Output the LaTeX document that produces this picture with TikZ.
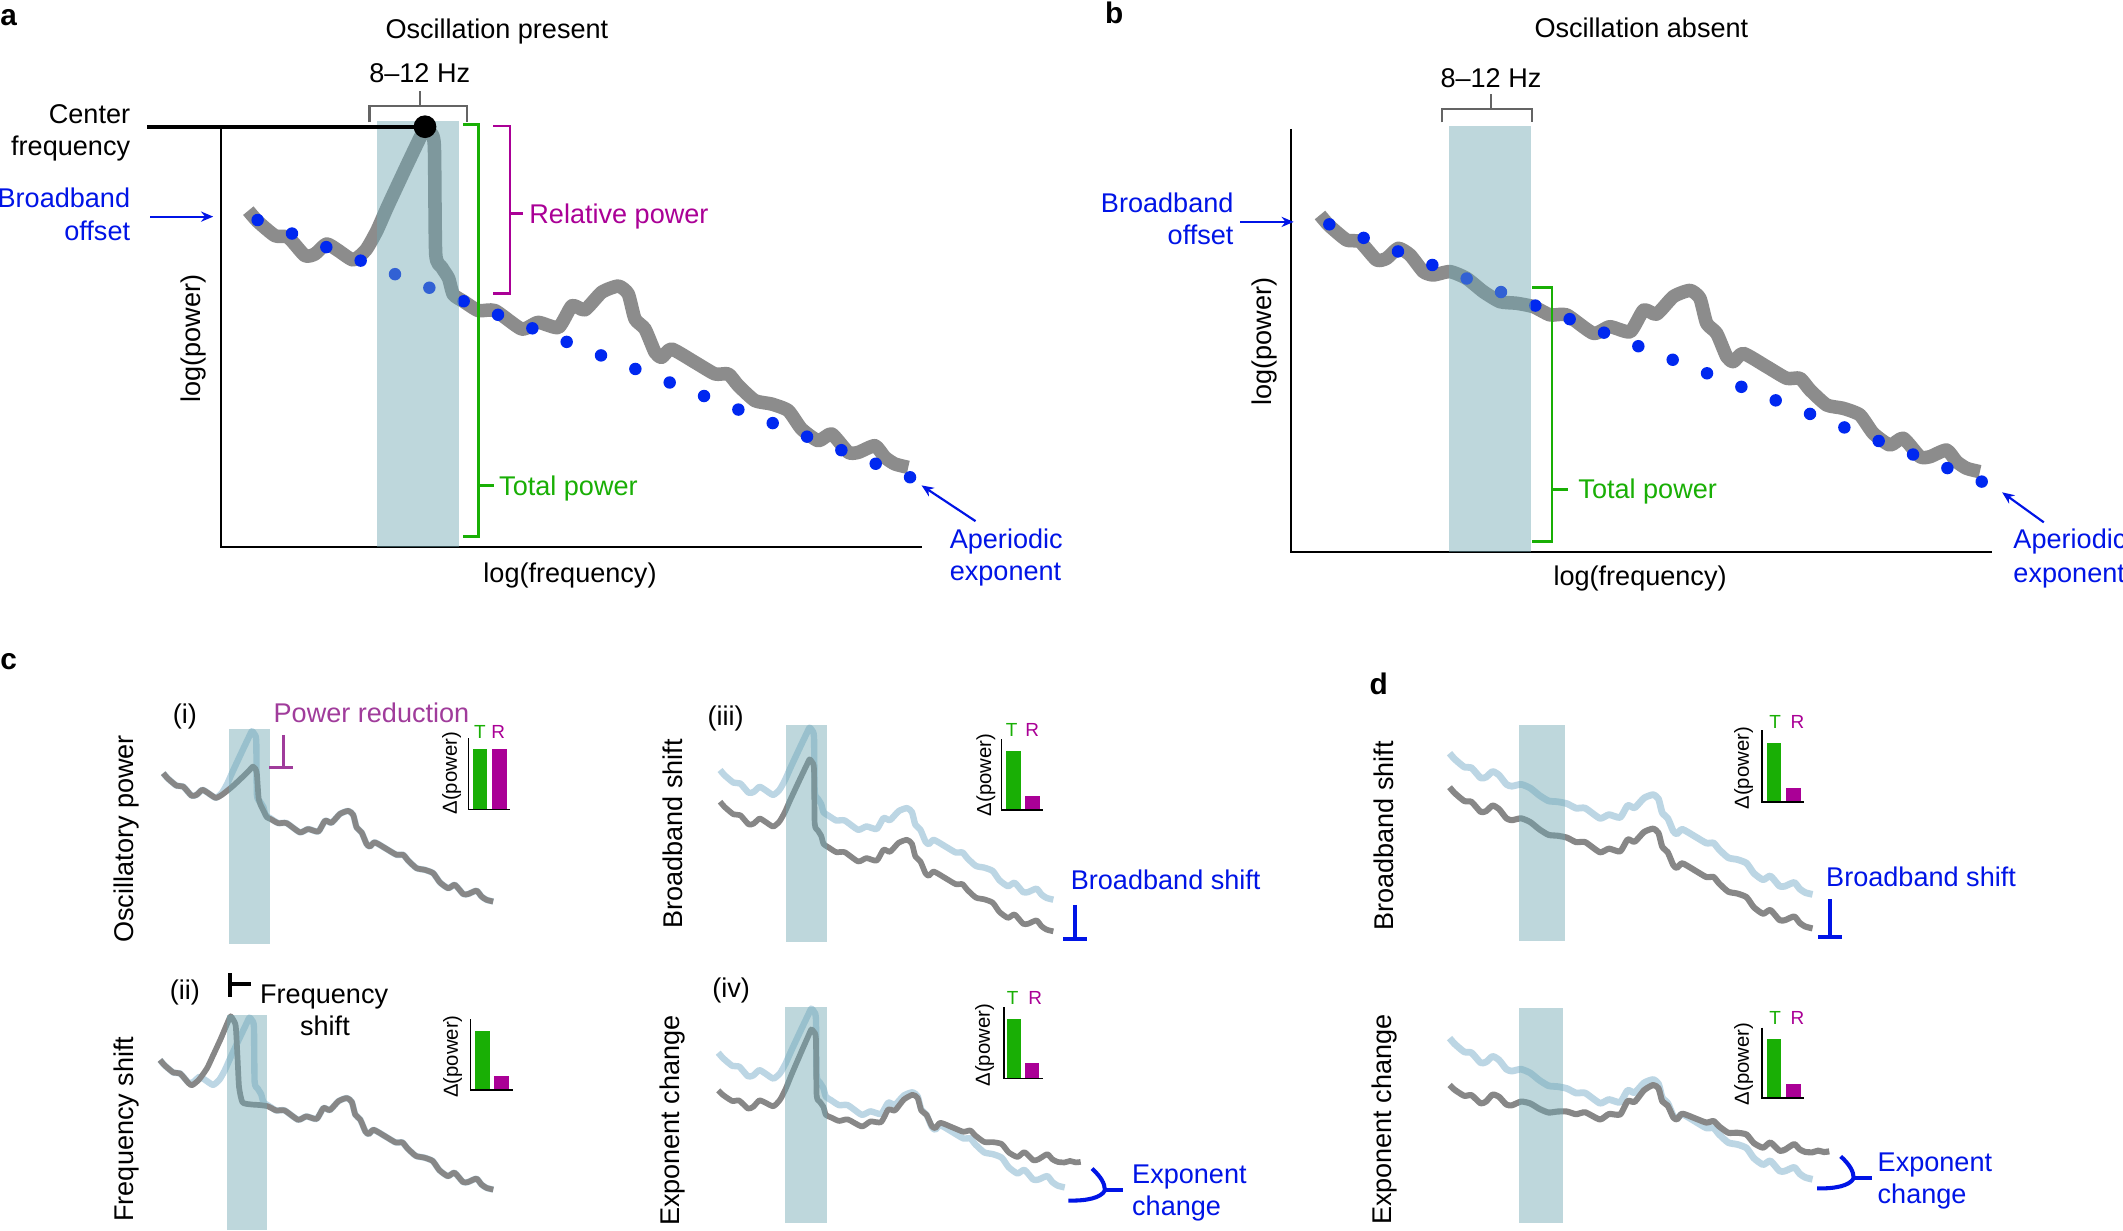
\documentclass[tikz,border=0pt]{standalone}
\usepackage{fontspec}
\setmainfont{Liberation Sans}
\usetikzlibrary{arrows.meta}
\definecolor{cgray}{RGB}{140,140,140}
\definecolor{cdark}{RGB}{135,135,135}
\definecolor{clight}{RGB}{188,214,228}
\definecolor{cband}{RGB}{111,167,178}
\definecolor{dotblue}{RGB}{0,40,240}
\definecolor{myblue}{RGB}{0,20,230}
\definecolor{mygreen}{RGB}{25,175,5}
\definecolor{mymag}{RGB}{170,0,150}
\definecolor{powred}{RGB}{160,60,155}
\definecolor{brgray}{RGB}{100,100,100}
\newcommand\myfs[1]{\fontsize{#1}{#1}\selectfont}
% curve data (relative to first aperiodic dot, big-panel units)
\def\cvL{-6.9/-6.9,0/1,12.8/11.6,22.6/12.8,34.9/26.3,42.3/25.1,50.9/17.7,59.6/22.6}
\def\cvM{69.4/34.9,76.8/37.4,89.1/34.9,101.4/39.9,113.7/49.7,126/57.1,138.4/58.3,150.7/60.8}
\def\cvR{163/66.9,175.3/66.9,195/80.5,207.2/75.6,222.2/79.3,232.2/63.3,241.7/66.3,254.2/53.3,266.4/48.8,273.7/54.6,278.7/73.1,286.1/80.5,293.5/97.7,298.4/101.4,305.7/95.3,323/105.1,337.8/113.7,347.6/113.7,355/122.3,367.3/133.4,379.6/135.9,391.9/140.8,401.7/154.3,414.1/163,423.9/158,436.2/171.6,443.6/171.6,455.9/166.7,463.3/175.3,470.7/180.2,480.5/182.7}
\def\cvExt{488/182,496/185.5,503/186}
\def\pkF{70.7/29.5,80/22,88/8,96/-10,110/-40,120.5/-62,124/-68.9,127.5/-65,130.5/-55,131.5/25,136/35,141/43,144.5/55,151.9/60}
\def\pkR{70.7/29.5,80/25,95/13,110/-1,121/-12,125.5/-16.6,129.5/-13,131.5/-5,134/30,137/40,142/50,146/58,151.9/61}
\def\cvS{-6.9/-6.9,0/1,12.8/11.6,22.6/12.8,34.9/27,40/30,50/22,62/5,70/-12,82/-38,93/-64,96.5/-70.9,100/-66,103.9/-56.3,106.5/-10,108.7/32.5,113.7/55,125.9/58.1,138.4/59,150.7/60.8}
\edef\curveB{\cvL,\cvM,\cvR}
\edef\curveF{\cvL,\pkF,\cvR}
\edef\curveRd{\cvL,\pkR,\cvR}
\edef\curveSh{\cvS,\cvR}
\edef\curveFx{\cvL,\pkF,\cvR,\cvExt}
\edef\curveBx{\cvL,\cvM,\cvR,\cvExt}
% #1 list, #2 ox, #3 oy, #4 scale, #5 k (slope change), #6 pivot x, #7 dy
\newcommand\mkcurve[7]{%
  \gdef\cvpts{}%
  \foreach \cx/\cy in #1 {%
    \pgfmathsetmacro\cvX{#2+#4*\cx}%
    \pgfmathsetmacro\cvY{#3+#4*(\cy+#7-#5*(\cx-#6))}%
    \xdef\cvpts{\cvpts (\cvX,\cvY)}%
  }%
}
\newcommand\drawcv[1]{\expandafter\drawcvi\expandafter{\cvpts}{#1}}
\newcommand\drawcvi[2]{\draw[#2] plot[smooth,tension=0.35] coordinates {#1};}
\begin{document}
\begin{tikzpicture}[x=1pt,y=-1pt,
  lbl/.style={font=\myfs{20}, inner sep=0pt},
  panlbl/.style={font=\myfs{22}\bfseries, inner sep=0pt},
  small/.style={font=\myfs{15}, inner sep=0pt},
  tr/.style={font=\myfs{14}, inner sep=0pt},
  bigcurve/.style={line width=10pt, draw=cgray, line join=round, line cap=butt},
  darkcv/.style={line width=4.2pt, draw=cdark, line join=round},
  ghostcv/.style={line width=4.7pt, draw=clight, line join=round},
  dcv/.style={line width=4.5pt, draw=cdark, line join=round},
  dghost/.style={line width=5pt, draw=clight, line join=round},
  bandbox/.style={fill=cband, fill opacity=0.45},
  axisline/.style={line width=1.3pt, draw=black},
  baraxis/.style={line width=1.1pt, draw=black},
  gbr/.style={line width=2pt, draw=mygreen},
  mbr/.style={line width=2pt, draw=mymag},
  hzbr/.style={line width=1.8pt, draw=brgray},
  barrow/.style={line width=1.6pt, draw=myblue, -{Stealth[length=9pt,width=7.5pt]}},
  bsym/.style={line width=3pt, draw=myblue},
]
\useasboundingbox (0,0) rectangle (1568,909);
\fill[white] (0,0) rectangle (1568,909);

%================ panel a =================
\node[panlbl, anchor=base west] (la) at (0,18.5) {a};
\node[lbl, anchor=base] (ta) at (367,28.4) {Oscillation present};
\draw[axisline] (163,95.5) -- (163,404) -- (681,404);
\mkcurve{\curveF}{190.3}{162.5}{1}{0}{0}{0}
\drawcv{bigcurve}
\foreach \i in {0,...,19} \fill[dotblue] ({190.3+25.36*\i},{162.5+10.0*\i}) circle[radius=4.6pt];
\fill[bandbox] (278.7,89.1) rectangle (339,404);
\coordinate (cfL) at (108.7,93.6);
\coordinate (cfD) at (313.9,93.6);
\draw[line width=3.2pt] (cfL) -- (cfD);
\fill (cfD) circle[radius=8.4pt];
\draw[hzbr] (272.8,90.3) -- (272.8,78.3) -- (345.1,78.3) -- (345.1,90.3);
\draw[hzbr] (310.2,78.3) -- (310.2,67.3);
\node[lbl, anchor=base] (hza) at (310,61) {8--12 Hz};
\node[lbl, anchor=base east] (cf1) at (96.3,90.9) {Center};
\node[lbl, anchor=base east] (cf2) at (96.3,115) {frequency};
\node[lbl, anchor=base east, text=myblue] (bo1) at (96.3,153.4) {Broadband};
\node[lbl, anchor=base east, text=myblue] (bo2) at (96.3,177.5) {offset};
\coordinate (boA) at (110.8,160);
\coordinate (boB) at (157.5,160);
\draw[barrow] (boA) -- (boB);
\draw[mbr] (364.3,93.1) -- (376.7,93.1) -- (376.7,216.6) -- (364.3,216.6);
\draw[mbr] (376.7,157.6) -- (386.5,157.6);
\node[lbl, anchor=base west, text=mymag] (rp) at (390.8,164.8) {Relative power};
\draw[gbr] (342.2,91.8) -- (353.3,91.8) -- (353.3,396.3) -- (341.6,396.3);
\draw[gbr] (353.3,358.5) -- (364.9,358.5);
\node[lbl, anchor=base west, text=mygreen] (tpa) at (368.5,365.7) {Total power};
\node[lbl, rotate=90] (lpa) at (143.1,250) {log(power)};
\node[lbl, anchor=base] (lfa) at (421,430.4) {log(frequency)};
\node[lbl, anchor=base west, text=myblue] (ae1) at (701.3,404.8) {Aperiodic};
\node[lbl, anchor=base west, text=myblue] (ae2) at (701.3,429) {exponent};
\coordinate (aeA) at (720.5,384.9);
\coordinate (aeB) at (680.6,358.5);
\draw[barrow] (aeA) -- (aeB);

%================ panel b =================
\node[panlbl, anchor=base west] (lb) at (816,17) {b};
\node[lbl, anchor=base] (tb) at (1212.3,27.8) {Oscillation absent};
\draw[axisline] (953.6,95.1) -- (953.6,407.5) -- (1471.5,407.5);
\mkcurve{\curveB}{981.8}{165.7}{1}{0}{0}{0}
\drawcv{bigcurve}
\foreach \i in {0,...,19} \fill[dotblue] ({981.8+25.36*\i},{165.7+10.0*\i}) circle[radius=4.6pt];
\fill[bandbox] (1070.2,92.9) rectangle (1130.4,407.5);
\draw[hzbr] (1064.9,90.3) -- (1064.9,80.4) -- (1131.3,80.4) -- (1131.3,90.3);
\draw[hzbr] (1101.2,80.4) -- (1101.2,69.6);
\node[lbl, anchor=base] (hzb) at (1101.2,64.8) {8--12 Hz};
\node[lbl, anchor=base east, text=myblue] (bob1) at (911.2,156.8) {Broadband};
\node[lbl, anchor=base east, text=myblue] (bob2) at (911.2,180.4) {offset};
\coordinate (bobA) at (916,163.9);
\coordinate (bobB) at (955.5,163.9);
\draw[barrow] (bobA) -- (bobB);
\draw[gbr] (1131.8,212.5) -- (1146.3,212.5) -- (1146.3,399.7) -- (1131.8,399.7);
\draw[gbr] (1146.3,361.3) -- (1158.4,361.3);
\node[lbl, anchor=base west, text=mygreen] (tpb) at (1165.6,368.5) {Total power};
\node[lbl, rotate=90] (lpb) at (934,252.1) {log(power)};
\node[lbl, anchor=base] (lfb) at (1211.3,432.5) {log(frequency)};
\node[lbl, anchor=base west, text=myblue] (aeb1) at (1486.9,404.8) {Aperiodic};
\node[lbl, anchor=base west, text=myblue] (aeb2) at (1486.9,430.4) {exponent};
\coordinate (aebA) at (1509.5,385.8);
\coordinate (aebB) at (1478.7,363.6);
\draw[barrow] (aebA) -- (aebB);

%================ panel c =================
\node[panlbl, anchor=base west] (lc) at (0,494.4) {c};
% (i)
\mkcurve{\curveF}{124}{574.5}{0.5}{0}{0}{0}
\drawcv{ghostcv}
\mkcurve{\curveRd}{124}{574.5}{0.5}{0}{0}{0}
\drawcv{darkcv}
\fill[bandbox] (169.4,538.6) rectangle (199.4,697.2);
\node[lbl, anchor=base] (ci) at (136.6,534) {(i)};
\node[lbl, anchor=base west, text=powred] (prd) at (201.9,533.7) {Power reduction};
\draw[line width=2.6pt, draw=powred] (209.3,542.8) -- (209.3,566.7);
\draw[line width=2.6pt, draw=powred] (198.9,566.7) -- (216.6,566.7);
\fill[mygreen] (349.1,553.4) rectangle (359.9,597.7);
\fill[mymag] (363.1,553.4) rectangle (374.2,597.7);
\draw[baraxis] (345.9,545.3) -- (345.9,597.7) -- (376.7,597.7);
\node[tr, anchor=base, text=mygreen] (t1) at (354.5,545.3) {T};
\node[tr, anchor=base, text=mymag] (r1) at (368,545.3) {R};
\node[small, rotate=90] (d1) at (333.6,571.1) {Δ(power)};
\node[lbl, rotate=90] (yl1) at (93.3,619.5) {Oscillatory power};
% (ii)
\mkcurve{\curveF}{121.65}{786.35}{0.505}{0}{0}{0}
\drawcv{ghostcv}
\mkcurve{\curveSh}{121.65}{786.35}{0.505}{0}{0}{0}
\drawcv{darkcv}
\fill[bandbox] (167.9,749.6) rectangle (197.4,908.4);
\node[lbl, anchor=base] (cii) at (136.6,738) {(ii)};
\draw[line width=3pt] (169.9,718.8) -- (169.9,736.6);
\draw[line width=3pt] (169.9,726.7) -- (185.1,726.7);
\node[lbl, anchor=base] (fs1) at (239.4,741.5) {Frequency};
\node[lbl, anchor=base] (fs2) at (240,765.1) {shift};
\fill[mygreen] (350.8,761.4) rectangle (361.9,805);
\fill[mymag] (364.8,794.7) rectangle (375.9,805);
\draw[baraxis] (347.6,752.8) -- (347.6,805) -- (378.6,805);
\node[small, rotate=90] (d2) at (334.3,780.4) {Δ(power)};
\node[lbl, rotate=90] (yl2) at (93.3,833.9) {Frequency shift};
% (iii)
\mkcurve{\curveF}{535.3}{572.2}{0.505}{0}{0}{0}
\drawcv{ghostcv}
\mkcurve{\curveF}{535.3}{595.6}{0.505}{0}{0}{0}
\drawcv{darkcv}
\fill[bandbox] (580.5,535.4) rectangle (611,695.5);
\node[lbl, anchor=base] (ciii) at (536,536.2) {(iii)};
\fill[mygreen] (743,554.4) rectangle (753.8,598.2);
\fill[mymag] (757,587.6) rectangle (767.9,598.2);
\draw[baraxis] (739.8,546) -- (739.8,598.2) -- (770.5,598.2);
\node[tr, anchor=base, text=mygreen] (t3) at (747.2,543.6) {T};
\node[tr, anchor=base, text=mymag] (r3) at (762.4,543.6) {R};
\node[small, rotate=90] (d3) at (728.2,572.4) {Δ(power)};
\node[lbl, rotate=90] (yl3) at (496.9,616) {Broadband shift};
\draw[bsym] (794,668.4) -- (794,693.7);
\draw[bsym] (785.3,693.7) -- (803,693.7);
\node[lbl, anchor=base west, text=myblue] (bs3) at (790.7,657.3) {Broadband shift};
% (iv)
\mkcurve{\curveF}{534.1}{781.1}{0.525}{0}{0}{0}
\drawcv{ghostcv}
\mkcurve{\curveFx}{534.1}{781.1}{0.525}{0.181}{286}{0}
\drawcv{darkcv}
\fill[bandbox] (579.7,744.1) rectangle (610.7,903.6);
\node[lbl, anchor=base] (civ) at (540,737) {(iv)};
\fill[mygreen] (743.5,752.4) rectangle (753.8,796.5);
\fill[mymag] (757,785.3) rectangle (767.5,796.5);
\draw[baraxis] (741.7,744) -- (741.7,796.5) -- (770.1,796.5);
\node[tr, anchor=base, text=mygreen] (t4) at (748,742) {T};
\node[tr, anchor=base, text=mymag] (r4) at (764.5,742) {R};
\node[small, rotate=90] (d4) at (727.2,771.9) {Δ(power)};
\node[lbl, rotate=90] (yl4) at (496.9,827.6) {Exponent change};
\coordinate (e4t) at (806.5,863.1);
\coordinate (e4j) at (816.1,879.2);
\coordinate (e4r) at (829.7,879.2);
\coordinate (e4l) at (789,886.7);
\draw[bsym, line cap=butt] (e4t) .. controls (813,869) and (816,874) .. (e4j);
\draw[bsym, line cap=butt] (e4j) .. controls (813,885) and (802,887) .. (e4l);
\draw[bsym, line cap=butt] (e4j) -- (e4r);
\node[lbl, anchor=base west, text=myblue] (ec41) at (836,874) {Exponent};
\node[lbl, anchor=base west, text=myblue] (ec42) at (836,898) {change};

%================ panel d =================
\node[panlbl, anchor=base west] (ld) at (1011.3,513) {d};
% top
\mkcurve{\curveB}{1074.4}{560.1}{0.55}{0}{0}{0}
\drawcv{dghost}
\mkcurve{\curveB}{1074.4}{585.2}{0.55}{0}{0}{0}
\drawcv{dcv}
\fill[bandbox] (1122.2,535.7) rectangle (1155.9,695.1);
\fill[mygreen] (1305.2,548.4) rectangle (1315.2,592.4);
\fill[mymag] (1318.8,581.8) rectangle (1330.4,592.4);
\draw[baraxis] (1301.3,539.5) -- (1301.3,592.4) -- (1332.3,592.4);
\node[tr, anchor=base, text=mygreen] (t5) at (1311,538.1) {T};
\node[tr, anchor=base, text=mymag] (r5) at (1327.6,538.1) {R};
\node[small, rotate=90] (d5) at (1287.8,567.4) {Δ(power)};
\node[lbl, rotate=90] (yl5) at (1022.2,617.5) {Broadband shift};
\draw[bsym] (1351.7,664.2) -- (1351.7,692);
\draw[bsym] (1342.8,692) -- (1360.6,692);
\node[lbl, anchor=base west, text=myblue] (bs5) at (1348.6,655) {Broadband shift};
% bottom
\mkcurve{\curveB}{1074.4}{770.5}{0.55}{0}{0}{0}
\drawcv{dghost}
\mkcurve{\curveBx}{1074.4}{770.5}{0.55}{0.2036}{302.5}{0}
\drawcv{dcv}
\fill[bandbox] (1121.8,744.4) rectangle (1154.7,903.3);
\fill[mygreen] (1305.2,767.2) rectangle (1315.2,811);
\fill[mymag] (1318.8,800.6) rectangle (1330.4,811);
\draw[baraxis] (1301.3,758.9) -- (1301.3,811) -- (1332.3,811);
\node[tr, anchor=base, text=mygreen] (t6) at (1311,756.7) {T};
\node[tr, anchor=base, text=mymag] (r6) at (1327.6,756.7) {R};
\node[small, rotate=90] (d6) at (1287.8,785.8) {Δ(power)};
\node[lbl, rotate=90] (yl6) at (1022.2,826.9) {Exponent change};
\coordinate (e6t) at (1359.5,854.1);
\coordinate (e6j) at (1369.1,870.2);
\coordinate (e6r) at (1382.7,870.2);
\coordinate (e6l) at (1342,877.7);
\draw[bsym, line cap=butt] (e6t) .. controls (1366,860) and (1369,865) .. (e6j);
\draw[bsym, line cap=butt] (e6j) .. controls (1366,876) and (1355,878) .. (e6l);
\draw[bsym, line cap=butt] (e6j) -- (e6r);
\node[lbl, anchor=base west, text=myblue] (ec61) at (1386.6,865) {Exponent};
\node[lbl, anchor=base west, text=myblue] (ec62) at (1386.6,889) {change};
\end{tikzpicture}
\end{document}
